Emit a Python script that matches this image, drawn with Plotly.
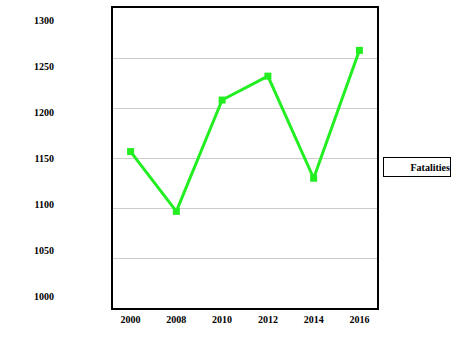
import plotly.graph_objects as go

years = ["2000", "2008", "2010", "2012", "2014", "2016"]
fatalities = [1157, 1092, 1213, 1239, 1128, 1267]
y_ticks = [1000, 1050, 1100, 1150, 1200, 1250, 1300]
series_name = "Fatalities"

font_family = "Liberation Serif"
green = "#22ee22"

fig = go.Figure()
fig.add_trace(go.Scatter(
    x=years, y=fatalities, mode="lines+markers", name=series_name,
    line=dict(color=green, width=3),
    marker=dict(symbol="square", size=7, color=green),
    showlegend=False, yaxis="y",
))
# invisible trace to activate the gridline axis
fig.add_trace(go.Scatter(
    x=[years[0]], y=[0], mode="markers", marker=dict(opacity=0),
    showlegend=False, hoverinfo="skip", yaxis="y2",
))

# legend box (symbol not visible in reference)
fig.add_annotation(
    text="<b>" + series_name + "</b>", xref="paper", yref="paper",
    x=1.0227, y=0.47, xanchor="left", yanchor="middle",
    showarrow=False, width=66, height=18, align="right",
    bordercolor="black", borderwidth=1, borderpad=0, bgcolor="white",
    font=dict(family=font_family, size=10, color="black"),
)

fig.update_layout(
    width=454, height=346,
    margin=dict(l=113, r=77, t=8, b=38, autoexpand=False),
    paper_bgcolor="white", plot_bgcolor="white",
    font=dict(family=font_family, size=10, color="black"),
    showlegend=False,
    xaxis=dict(
        type="category", categoryorder="array", categoryarray=years,
        tickvals=years, ticktext=["<b>" + y + "</b>" for y in years],
        showgrid=False, showline=True, mirror=True, linecolor="black", linewidth=2,
        ticks="", tickfont=dict(family=font_family, size=10),
        ticklabelstandoff=1,
    ),
    yaxis=dict(
        range=[986.96, 1313.04], tickvals=y_ticks,
        ticktext=["<b>" + str(v) + "</b>" for v in y_ticks],
        showgrid=False, zeroline=False,
        showline=True, mirror=True, linecolor="black", linewidth=2,
        ticks="", ticklabelstandoff=55,
        tickfont=dict(family=font_family, size=10),
    ),
    yaxis2=dict(
        overlaying="y", range=[0, 6], dtick=1, showgrid=True, gridcolor="#cccccc",
        gridwidth=1, showticklabels=False, zeroline=False, showline=False,
    ),
)

fig.write_html("out.html")
